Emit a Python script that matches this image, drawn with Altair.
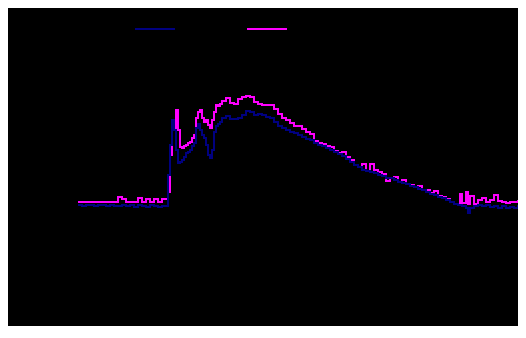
import altair as alt
import pandas as pd

series_names = ["Series A", "Series B"]

x_vals = (
    [35, 37, 39, 41, 43, 45, 47, 49, 51, 53, 55, 57, 59, 61, 63, 65, 67, 69, 71, 73, 75, 77, 79]
    + list(range(80, 107))
    + list(range(107, 226, 2))
    + [226, 227, 229, 230, 231, 233, 235, 237, 239, 241, 243, 245, 247, 249, 251, 253, 255, 257, 259]
)

navy_vals = (
    [130, 129, 130, 130, 129, 130, 130, 129, 130, 129, 129, 130, 129, 130, 128, 130, 129, 128, 130, 129, 128, 129, 129]
    + [160, 190, 215, 205, 185, 172, 173, 175, 178, 182, 183, 185, 189, 192, 207, 211, 205, 200, 197, 190, 180, 177, 185, 203, 209, 211, 213]
    + [217, 219, 216, 216, 217, 220, 224, 223, 220, 221, 220, 218, 217, 213, 209, 207, 205, 203, 202, 200,
       198, 196, 195, 192, 190, 189, 187, 185, 183, 181, 179, 176, 173, 170, 168, 165, 164, 163, 162, 160,
       159, 157, 157, 155, 153, 152, 151, 149, 148, 146, 145, 143, 141, 140, 138, 137, 135, 133, 131, 130]
    + [130, 129, 127, 122, 127, 129, 130, 129, 130, 128, 129, 127, 129, 127, 128, 127, 129, 127, 128]
)

magenta_vals = (
    [133, 133, 133, 133, 133, 133, 133, 133, 133, 133, 138, 136, 133, 133, 133, 137, 133, 136, 133, 136, 133, 136, 136]
    + [143, 180, 215, 207, 225, 205, 188, 187, 189, 190, 192, 193, 197, 200, 217, 223, 225, 217, 213, 215, 210, 207, 215, 223, 230, 229, 231]
    + [234, 237, 232, 231, 236, 238, 239, 238, 233, 231, 230, 230, 230, 226, 221, 217, 215, 212, 209, 209,
       206, 203, 201, 194, 192, 191, 189, 188, 184, 182, 183, 178, 175, 170, 168, 171, 164, 171, 165, 163,
       161, 154, 157, 158, 153, 155, 151, 150, 148, 149, 145, 145, 142, 144, 139, 138, 136, 133, 131, 130]
    + [141, 132, 143, 131, 139, 131, 135, 137, 133, 135, 140, 134, 133, 132, 133, 133, 134, 133, 133]
)

df = pd.DataFrame({
    "x": x_vals + x_vals,
    "value": navy_vals + magenta_vals,
    "series": [series_names[0]] * len(x_vals) + [series_names[1]] * len(x_vals),
})

base = alt.Chart(df).encode(
    x=alt.X("x:Q", scale=alt.Scale(domain=[0, 255], nice=False, zero=False), axis=None),
    y=alt.Y("value:Q", scale=alt.Scale(domain=[9, 327], nice=False, zero=False), axis=None),
    color=alt.Color(
        "series:N",
        scale=alt.Scale(domain=series_names, range=["#000080", "#ff00ff"]),
        legend=alt.Legend(
            orient="none",
            legendX=126,
            legendY=0,
            direction="horizontal",
            title=None,
            symbolType="stroke",
            symbolSize=1600,
            symbolStrokeWidth=2,
            labelColor="black",
            labelFontSize=11,
            columnPadding=21,
            gridAlign="all",
            padding=0,
        ),
    ),
)

mag = base.transform_filter(alt.datum.series == series_names[1]).mark_line(
    strokeWidth=2, interpolate="step-after", clip=True
)
nav = base.transform_filter(alt.datum.series == series_names[0]).mark_line(
    strokeWidth=2, interpolate="step-after", clip=True
)

chart = (
    alt.layer(mag, nav)
    .properties(width=510, height=318, padding=0, autosize=alt.AutoSizeParams(type="none"), background="black")
    .configure_view(fill="black", stroke="black", strokeWidth=0)
)

chart.save("out.html", embed_options={"renderer": "svg", "actions": False})
